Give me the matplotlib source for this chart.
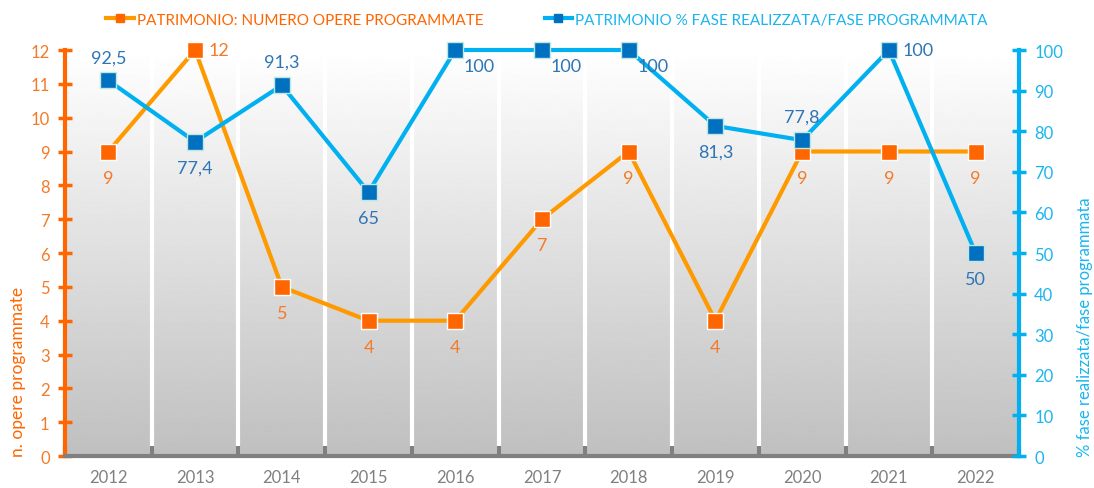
import numpy as np
import matplotlib.pyplot as plt
from matplotlib.lines import Line2D

plt.rcParams['font.family'] = ['Lato', 'DejaVu Sans']

# ── DATA ──────────────────────────────────────────────────────────────────────
years = ["2012", "2013", "2014", "2015", "2016", "2017", "2018", "2019", "2020", "2021", "2022"]
n_opere = [9, 12, 5, 4, 4, 7, 9, 4, 9, 9, 9]
perc_fase = [92.5, 77.4, 91.3, 65, 100, 100, 100, 81.3, 77.8, 100, 50]
perc_labels = ["92,5", "77,4", "91,3", "65", "100", "100", "100", "81,3", "77,8", "100", "50"]

ORANGE_LINE = "#FF9900"
ORANGE_MARK = "#FF6600"
ORANGE_TXT = "#F47A2A"
BLUE_LINE = "#00B0F0"
BLUE_MARK = "#0070C0"
BLUE_TXT = "#2E75B6"
CYAN_TXT = "#1CB5EE"
GRAY = "#808080"

fig = plt.figure(figsize=(10.94, 4.89), dpi=100)
ax = fig.add_axes([0.0594, 0.0654, 0.872, 0.8303])
ax2 = ax.twinx()

x = np.arange(len(years))

# background gradient white -> grey
grad = np.linspace(1.0, 0.75, 256).reshape(-1, 1)
ax.imshow(grad, extent=(-0.5, len(years) - 0.5, 0, 12), aspect="auto",
          cmap="gray", vmin=0, vmax=1, zorder=0, origin="upper")
for b in np.arange(0.5, len(years) - 0.5, 1):
    ax.axvline(b, color="white", lw=3, zorder=1)

# orange series
ax.plot(x, n_opere, color=ORANGE_LINE, lw=3, zorder=3, clip_on=False,
        marker="s", ms=12, mfc=ORANGE_MARK, mec="white", mew=1)
for i, v in enumerate(n_opere):
    if i == 1:
        ax.annotate(str(v), (i, v), xytext=(10, 0), textcoords="offset points",
                    ha="left", va="center", color=ORANGE_TXT, fontsize=13)
    else:
        ax.annotate(str(v), (i, v), xytext=(0, -13), textcoords="offset points",
                    ha="center", va="top", color=ORANGE_TXT, fontsize=13)

# blue series
ax2.plot(x, perc_fase, color=BLUE_LINE, lw=3, zorder=3, clip_on=False,
         marker="s", ms=12, mfc=BLUE_MARK, mec="#BFE8E0", mew=1)
offsets = {
    0: ((0, 11), "center", "bottom"),
    1: ((0, -13), "center", "top"),
    2: ((0, 11), "center", "bottom"),
    3: ((0, -13), "center", "top"),
    4: ((6, -6), "left", "top"),
    5: ((6, -6), "left", "top"),
    6: ((6, -6), "left", "top"),
    7: ((0, -13), "center", "top"),
    8: ((0, 11), "center", "bottom"),
    9: ((10, 0), "left", "center"),
    10: ((0, -13), "center", "top"),
}
for i, lab in enumerate(perc_labels):
    off, ha, va = offsets[i]
    ax2.annotate(lab, (i, perc_fase[i]), xytext=off, textcoords="offset points",
                 ha=ha, va=va, color=BLUE_TXT, fontsize=13, zorder=5)

# axes styling
ax.set_xlim(-0.5, len(years) - 0.5)
ax.set_ylim(0, 12)
ax2.set_ylim(0, 100)
ax.set_yticks(range(0, 13))
ax2.set_yticks(range(0, 101, 10))
ax.set_xticks(x)
ax.set_xticklabels(years, color=GRAY, fontsize=12)
ax.tick_params(axis="x", length=0, pad=9)
ax.set_xticks(np.arange(-0.5, len(years), 1), minor=True)
ax.tick_params(axis="x", which="minor", length=7, width=3, color=GRAY, direction="in")
ax.tick_params(axis="y", colors=ORANGE_MARK, labelcolor=ORANGE_TXT, labelsize=12,
               length=10, width=2.5, direction="inout", pad=6)
ax2.tick_params(axis="y", colors=BLUE_LINE, labelcolor=CYAN_TXT, labelsize=12,
                length=10, width=2.5, direction="inout", pad=6)

for a in (ax, ax2):
    a.spines["top"].set_visible(False)
ax.spines["right"].set_visible(False)
ax2.spines["left"].set_visible(False)
ax2.spines["bottom"].set_visible(False)
ax.spines["left"].set_color(ORANGE_MARK)
ax.spines["left"].set_linewidth(3)
ax2.spines["right"].set_color(BLUE_LINE)
ax2.spines["right"].set_linewidth(3)
ax.spines["bottom"].set_color(GRAY)
ax.spines["bottom"].set_linewidth(3)

# axis titles sit low, aligned to the bottom of the plot area
fig.text(0.0165, 0.0654, "n. opere programmate", rotation=90, ha="center", va="bottom",
         color=ORANGE_MARK, fontsize=12.5)
fig.text(0.992, 0.0654, "% fase realizzata/fase programmata", rotation=90, ha="center",
         va="bottom", color=CYAN_TXT, fontsize=12)

# legend
handles = [
    Line2D([], [], color=ORANGE_LINE, lw=3, marker="s", ms=6, mfc=ORANGE_MARK, mec=ORANGE_MARK),
    Line2D([], [], color=BLUE_LINE, lw=3, marker="s", ms=6, mfc=BLUE_MARK, mec=BLUE_MARK),
]
leg = fig.legend(handles, ["PATRIMONIO: NUMERO OPERE PROGRAMMATE",
                           "PATRIMONIO % FASE REALIZZATA/FASE PROGRAMMATA"],
                 loc="upper center", bbox_to_anchor=(0.5, 1.0), ncol=2, frameon=False,
                 fontsize=11, handlelength=1.8, handletextpad=0.2, columnspacing=4)
leg.get_texts()[0].set_color(ORANGE_MARK)
leg.get_texts()[1].set_color(CYAN_TXT)

fig.savefig("out.png", dpi=100)
